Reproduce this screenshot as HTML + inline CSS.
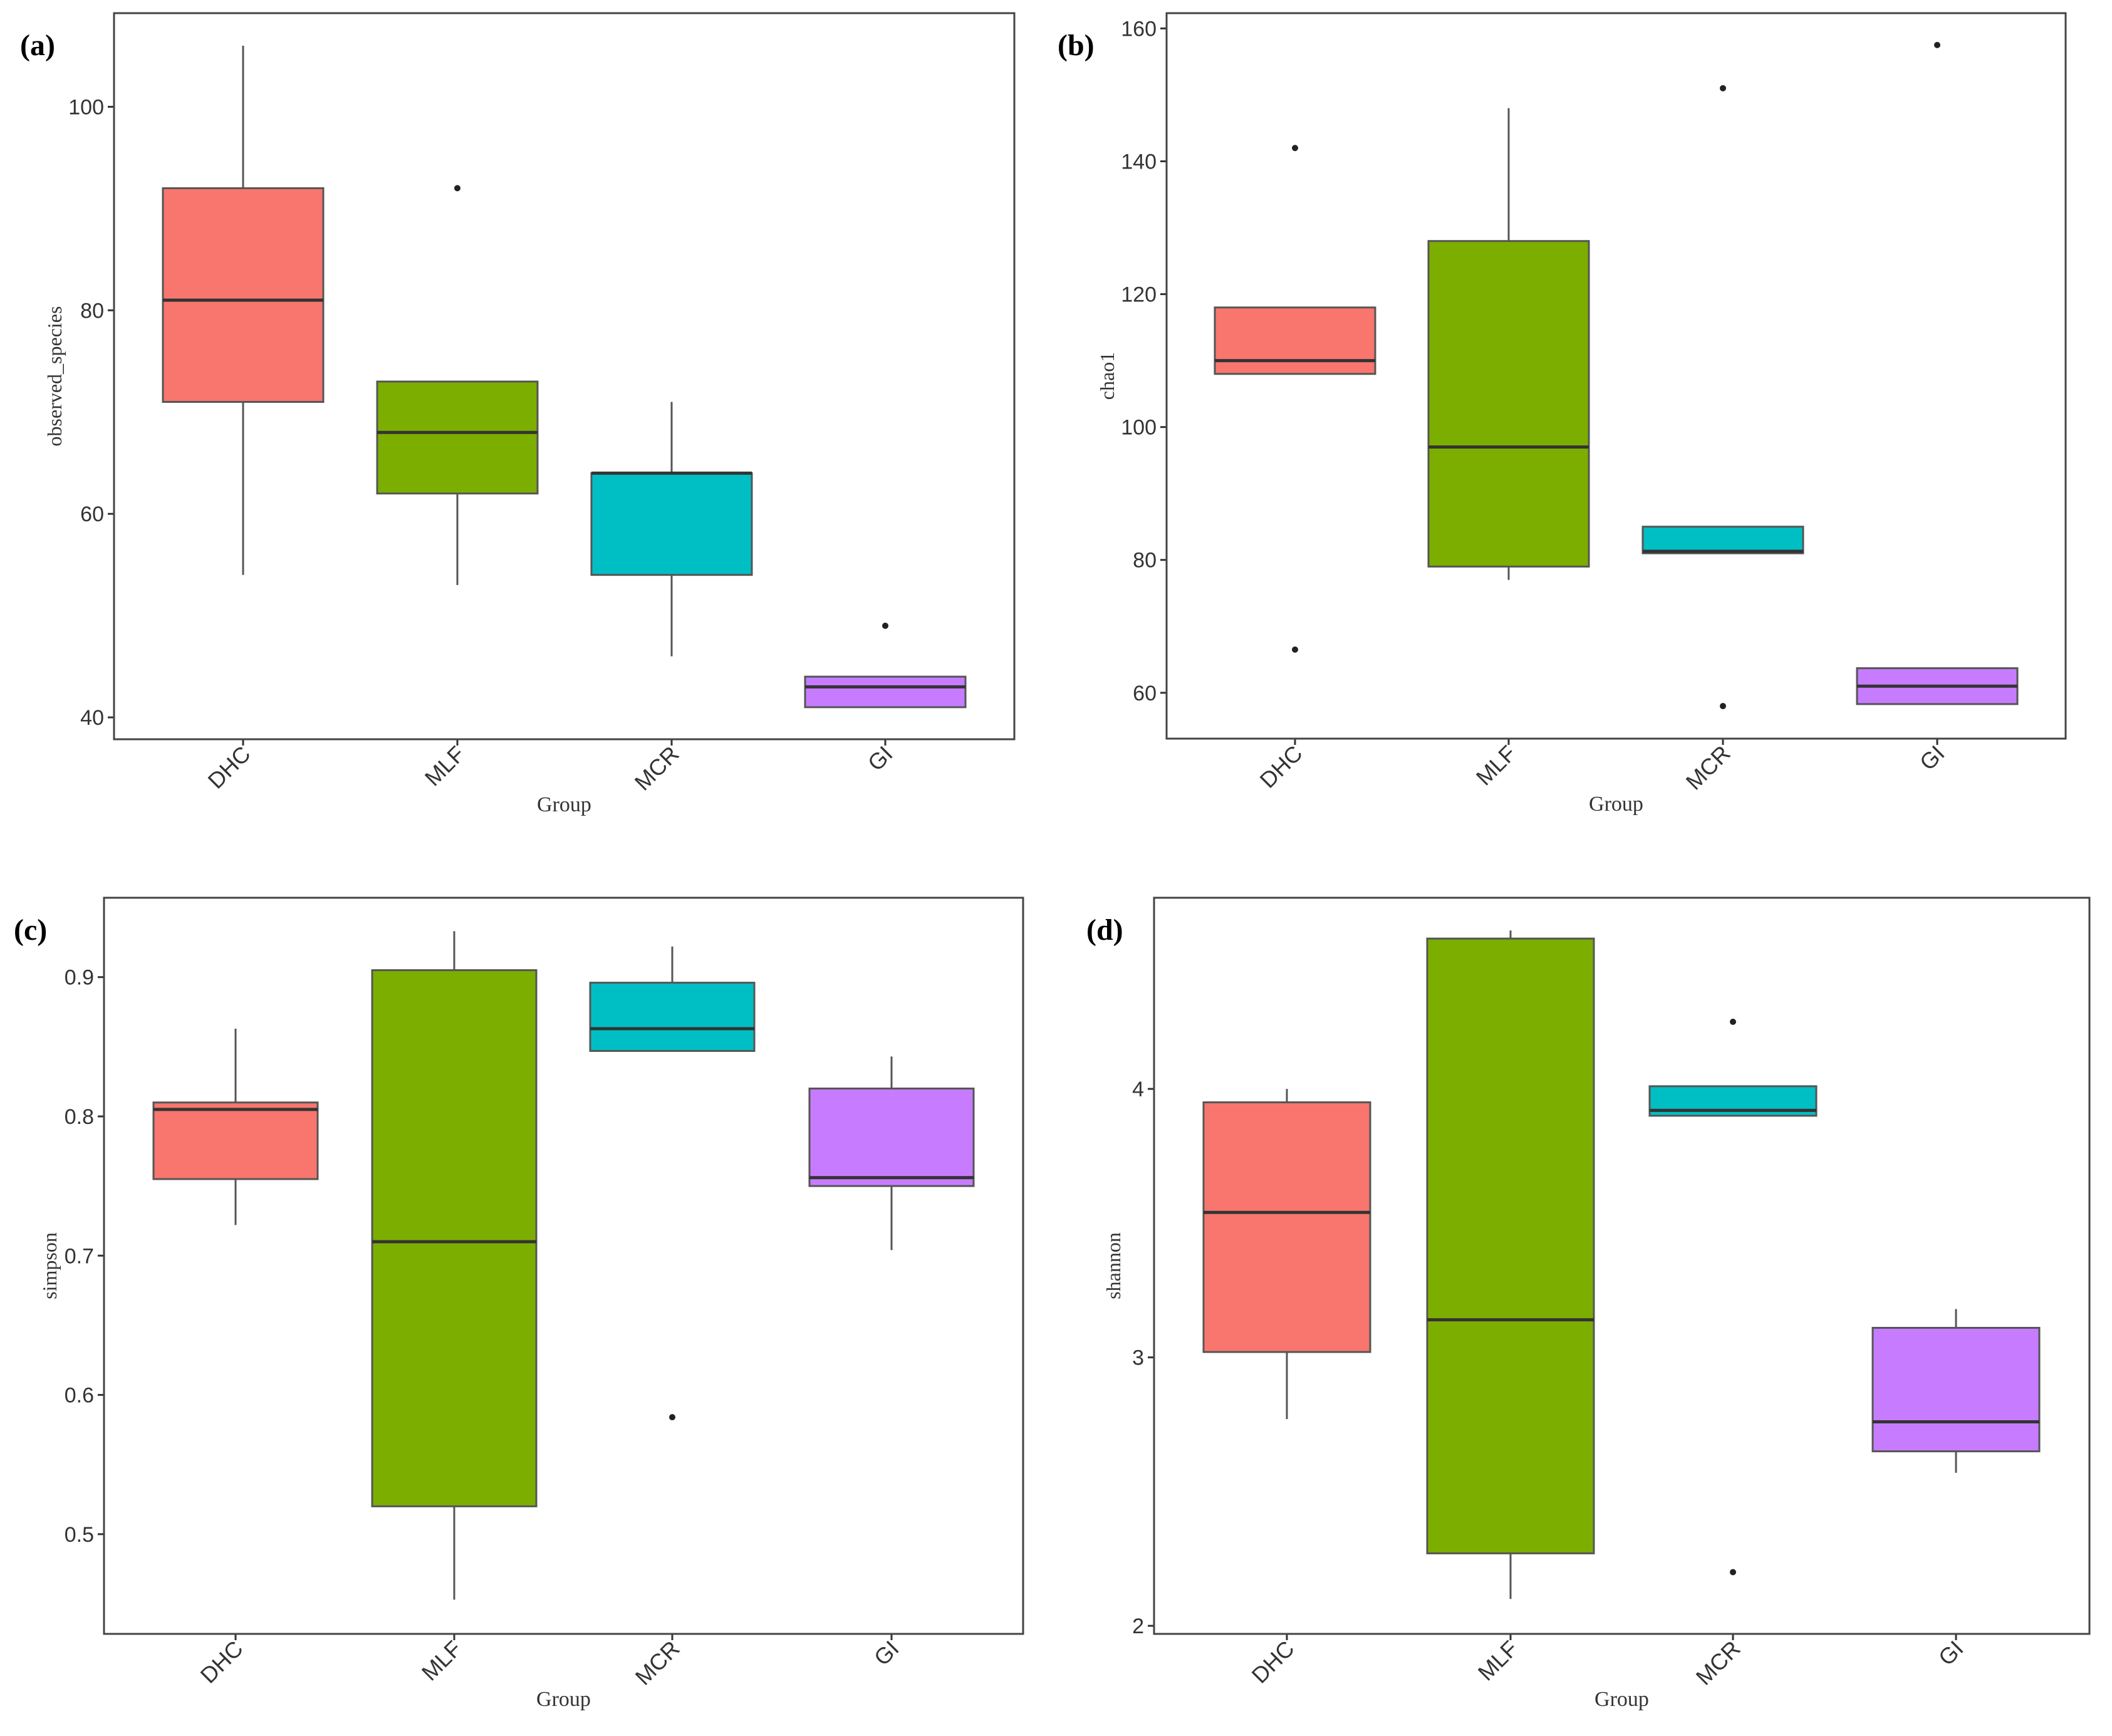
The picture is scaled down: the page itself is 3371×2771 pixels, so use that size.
<!DOCTYPE html>
<html><head><meta charset="utf-8"><style>
html,body{margin:0;padding:0;background:#fff;width:3371px;height:2771px;overflow:hidden}
svg{display:block}
</style></head><body>
<svg id="fig" width="3371" height="2771" viewBox="0 0 3371 2771" xmlns="http://www.w3.org/2000/svg"></svg>
<script>
const categories = ["DHC","MLF","MCR","GI"];
const colors = ["#F8766D","#7CAE00","#00BFC4","#C77CFF"];
// [lowWhisker, Q1, median, Q3, highWhisker]
const statsA = [[54,71,81,92,106],[53,62,68,73,73],[46,54,64,64,71],[41,41,43,44,44]];
const outliersA = [[],[92],[],[49]];
const ticksA = [40,60,80,100];
const statsB = [[108,108,110,118,118],[77,79,97,128,148],[81,81,81.3,85,85],[58.3,58.3,61,63.7,63.7]];
const outliersB = [[142,66.5],[],[151,58],[157.5]];
const ticksB = [60,80,100,120,140,160];
const statsC = [[0.722,0.755,0.805,0.81,0.863],[0.453,0.52,0.71,0.905,0.933],[0.847,0.847,0.863,0.896,0.922],[0.704,0.75,0.756,0.82,0.843]];
const outliersC = [[],[],[0.584],[]];
const ticksC = [0.5,0.6,0.7,0.8,0.9];
const statsD = [[2.77,3.02,3.54,3.95,4.0],[2.1,2.27,3.14,4.56,4.59],[3.9,3.9,3.92,4.01,4.01],[2.57,2.65,2.76,3.11,3.18]];
const outliersD = [[],[],[4.25,2.2],[]];
const ticksD = [2,3,4];

const NS="http://www.w3.org/2000/svg";
const svg=document.getElementById('fig');
function mk(tag,attrs,parent,txt){const e=document.createElementNS(NS,tag);for(const k in attrs)e.setAttribute(k,attrs[k]);if(txt!==undefined)e.textContent=txt;(parent||svg).appendChild(e);return e;}

const panels=[
 {id:'a',x0:182,x1:1619,y0:21,y1:1180,ymin:37.85,ymax:109.2,cx:[388,730,1072,1413],hw:128,stats:statsA,out:outliersA,ticks:ticksA,fmt:v=>String(v),ylab:'observed_species',ylx:98,lab:[32,88]},
 {id:'b',x0:1862,x1:3297,y0:21,y1:1179,ymin:53.1,ymax:162.3,cx:[2067,2408,2750,3092],hw:128,stats:statsB,out:outliersB,ticks:ticksB,fmt:v=>String(v),ylab:'chao1',ylx:1778,lab:[1688,88]},
 {id:'c',x0:166,x1:1633,y0:1433,y1:2608,ymin:0.4284,ymax:0.957,cx:[376,725,1073,1423],hw:131,stats:statsC,out:outliersC,ticks:ticksC,fmt:v=>v.toFixed(1),ylab:'simpson',ylx:90,lab:[22,1500]},
 {id:'d',x0:1842,x1:3335,y0:1433,y1:2608,ymin:1.97,ymax:4.712,cx:[2054,2411,2766,3122],hw:133,stats:statsD,out:outliersD,ticks:ticksD,fmt:v=>String(v),ylab:'shannon',ylx:1788,lab:[1734,1500]}
];

panels.forEach(p=>{
  const g=mk('g',{});
  
  
  const Y=v=>p.y1-(v-p.ymin)/(p.ymax-p.ymin)*(p.y1-p.y0);
  p.ticks.forEach(t=>{
    const y=Y(t);
    const tk=mk('line',{x1:p.x0-10,x2:p.x0,y1:y,y2:y,stroke:'#333','stroke-width':3},g);
    
    
    const tl=mk('text',{x:p.x0-16,y:y+12,'text-anchor':'end','font-family':'Liberation Sans, sans-serif','font-size':34,fill:'#333'},g,p.fmt(t));
    
    
  });
  categories.forEach((c,i)=>{
    const cx=p.cx[i], s=p.stats[i];
    const tk=mk('line',{x1:cx,x2:cx,y1:p.y1,y2:p.y1+10,stroke:'#333','stroke-width':3},g);
    
    
    const tl=mk('text',{x:0,y:0,'text-anchor':'end','font-family':'Liberation Sans, sans-serif','font-size':36,fill:'#333',transform:`translate(${cx+14},${p.y1+26}) rotate(-45)`},g,c);
    
    
    const w1=mk('line',{x1:cx,x2:cx,y1:Y(s[0]),y2:Y(s[1]),stroke:'#555','stroke-width':3},g);
    
    
    const w2=mk('line',{x1:cx,x2:cx,y1:Y(s[3]),y2:Y(s[4]),stroke:'#555','stroke-width':3},g);
    
    
    const b=mk('rect',{x:cx-p.hw,y:Y(s[3]),width:2*p.hw,height:Math.max(1,Y(s[1])-Y(s[3])),fill:colors[i],stroke:'#555','stroke-width':3},g);
    
    
    const m=mk('line',{x1:cx-p.hw,x2:cx+p.hw,y1:Y(s[2]),y2:Y(s[2]),stroke:'#333','stroke-width':5},g);
    
    
    p.out[i].forEach(v=>{
      const o=mk('circle',{cx:cx,cy:Y(v),r:5,fill:'#222'},g);
      
      
    });
  });
  const fr=mk('rect',{x:p.x0,y:p.y0,width:p.x1-p.x0,height:p.y1-p.y0,fill:'none',stroke:'#444','stroke-width':3},g);
  
  
  const yl=mk('text',{x:0,y:0,'text-anchor':'middle','font-family':'Liberation Serif, serif','font-size':32,fill:'#333',transform:`translate(${p.ylx},${(p.y0+p.y1)/2}) rotate(-90)`},g,p.ylab);
  
  
  const xl=mk('text',{x:(p.x0+p.x1)/2,y:p.y1+115,'text-anchor':'middle','font-family':'Liberation Serif, serif','font-size':34,fill:'#333'},g,'Group');
  
  
  const pl=mk('text',{x:p.lab[0],y:p.lab[1],'font-family':'Liberation Serif, serif','font-size':48,'font-weight':'bold',fill:'#000'},g,'('+p.id+')');
  
  
});
</script>
</body></html>
